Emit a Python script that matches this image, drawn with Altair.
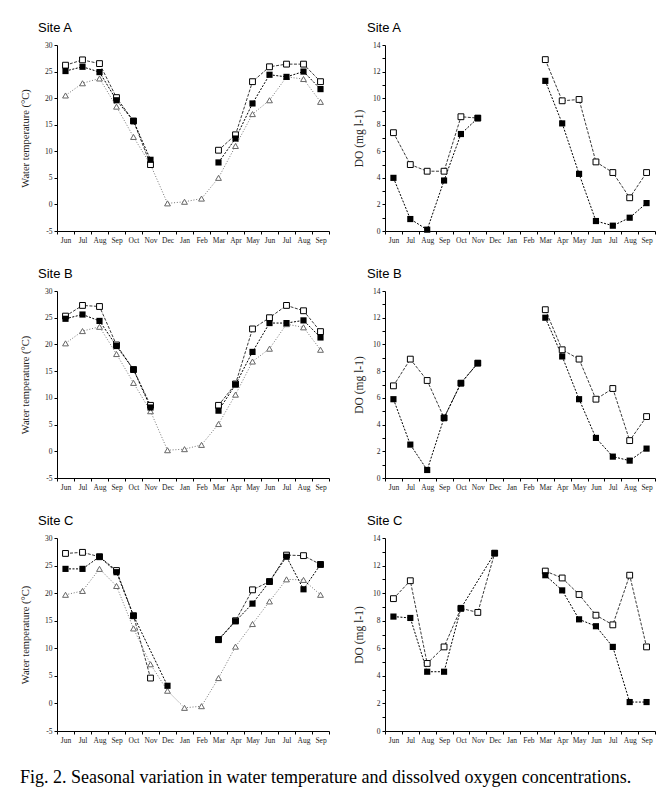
import altair as alt
import pandas as pd

# Sampling months, June of one year through September of the next
months = ["Jun", "Jul", "Aug", "Sep", "Oct", "Nov", "Dec", "Jan", "Feb",
          "Mar", "Apr", "May", "Jun", "Jul", "Aug", "Sep"]

# Water temperature (°C) — three series per site
a_temp_open = [26.2, 27.2, 26.5, 20.1, 15.7, 7.5, None, None, None, 10.2, 13.1, 23.1, 25.9, 26.4, 26.4, 23.1]
a_temp_filled = [25.1, 25.9, 24.9, 19.6, 15.7, 8.4, None, None, None, 7.9, 12.4, 19.0, 24.4, 24.0, 25.0, 21.7]
a_temp_tri = [20.5, 22.8, 23.7, 18.4, 12.7, 7.5, 0.2, 0.5, 1.1, 5.0, 11.0, 17.0, 19.6, 24.0, 23.6, 19.3]

b_temp_open = [25.3, 27.3, 27.1, 19.9, 15.3, 8.6, None, None, None, 8.6, 12.6, 22.9, 25.0, 27.3, 26.3, 22.4]
b_temp_filled = [24.8, 25.6, 24.4, 19.7, 15.3, 8.2, None, None, None, 7.6, 12.5, 18.6, 24.0, 24.0, 24.5, 21.3]
b_temp_tri = [20.2, 22.5, 23.3, 18.2, 12.8, 7.5, 0.2, 0.4, 1.2, 5.1, 10.6, 16.8, 19.2, 23.8, 23.2, 19.0]

c_temp_open = [27.2, 27.4, 26.6, 24.1, 15.9, 4.6, None, None, None, 11.6, 15.0, 20.6, 22.1, 26.9, 26.8, 25.2]
c_temp_filled = [24.4, 24.4, 26.6, 23.8, 15.9, None, 3.2, None, None, 11.5, 14.9, 18.1, 22.1, 26.6, 20.7, 25.2]
c_temp_tri = [19.7, 20.4, 24.4, 21.3, 13.6, 7.1, 2.3, -0.8, -0.5, 4.6, 10.3, 14.4, 18.5, 22.5, 22.4, 19.7]

# Dissolved oxygen (mg l-1) — two series per site
a_do_open = [7.4, 5.0, 4.5, 4.5, 8.6, 8.5, None, None, None, 12.9, 9.8, 9.9, 5.2, 4.4, 2.5, 4.4]
a_do_filled = [4.0, 0.9, 0.1, 3.8, 7.3, 8.5, None, None, None, 11.3, 8.1, 4.3, 0.75, 0.4, 1.0, 2.1]

b_do_open = [6.9, 8.9, 7.3, 4.5, 7.1, 8.6, None, None, None, 12.6, 9.6, 8.9, 5.9, 6.7, 2.8, 4.6]
b_do_filled = [5.9, 2.5, 0.6, 4.5, 7.1, 8.6, None, None, None, 12.0, 9.1, 5.9, 3.0, 1.6, 1.3, 2.2]

c_do_open = [9.6, 10.9, 4.9, 6.1, 8.9, 8.6, 12.9, None, None, 11.6, 11.1, 9.9, 8.4, 7.7, 11.3, 6.1]
c_do_filled = [8.3, 8.2, 4.3, 4.3, 8.9, None, 12.9, None, None, 11.3, 10.2, 8.1, 7.6, 6.1, 2.1, 2.1]

SERIF = "Liberation Serif"
SANS = "Liberation Sans"
month_expr = "[" + ",".join("'%s'" % m for m in months) + "][datum.value]"


def frame(values, split_years=True):
    rows = []
    for i, v in enumerate(values):
        if v is None:
            continue
        seg = (0 if i <= 8 else 1) if split_years else 0
        rows.append({"idx": i, "value": v, "seg": seg})
    return pd.DataFrame(rows)


def series_layers(values, kind, x, y):
    df = frame(values, split_years=(kind != "tri"))
    base = alt.Chart(df).encode(x=x, y=y)
    if kind == "filled":
        line = base.mark_line(color="black", strokeWidth=1, strokeDash=[2, 1.5]).encode(detail="seg:N")
        pts = base.mark_point(shape="square", filled=True, color="black", size=38, opacity=1)
    elif kind == "open":
        line = base.mark_line(color="#222", strokeWidth=0.9, strokeDash=[3, 1.5]).encode(detail="seg:N")
        pts = base.mark_point(shape="square", filled=True, fill="white", stroke="black",
                              strokeWidth=1, size=34, opacity=1)
    else:
        line = base.mark_line(color="#777", strokeWidth=1, strokeDash=[1, 1.8]).encode(detail="seg:N")
        pts = base.mark_point(shape="triangle-up", filled=True, fill="white", stroke="#666",
                              strokeWidth=1, size=34, opacity=1)
    return line, pts


def panel(site, series, ydomain, yvalues, label_step, ytitle, title_size, width, height,
          title_pad, title_dx):
    x = alt.X("idx:O",
              scale=alt.Scale(domain=list(range(16)), paddingInner=0, paddingOuter=0),
              axis=alt.Axis(title=None, labelExpr=month_expr, tickBand="extent",
                            labelAngle=0, labelPadding=2))
    y = alt.Y("value:Q",
              scale=alt.Scale(domain=ydomain, nice=False, zero=False),
              axis=alt.Axis(title=ytitle, values=yvalues, titleFontSize=title_size,
                            labelExpr="datum.value %% %d == 0 ? datum.value : ''" % label_step,
                            minExtent=16, maxExtent=16, titlePadding=title_pad))
    lines, points = [], []
    for vals, kind in series:
        l, p = series_layers(vals, kind, x, y)
        lines.append(l)
        points.append(p)
    return alt.layer(*lines, *points).properties(
        width=width, height=height,
        title=alt.TitleParams(site, anchor="start", frame="group", dx=title_dx,
                              font=SANS, fontSize=13, fontWeight="normal", color="black",
                              offset=6),
    )


temp_vals = list(range(-5, 31, 5))
do_vals = list(range(0, 15))
TEMP_T = "Water temperature (°C)"
DO_T = "DO (mg l-1)"

rows = []
for site, t_series, d_series, h in [
    ("Site A", [(a_temp_tri, "tri"), (a_temp_open, "open"), (a_temp_filled, "filled")],
     [(a_do_open, "open"), (a_do_filled, "filled")], 186),
    ("Site B", [(b_temp_tri, "tri"), (b_temp_open, "open"), (b_temp_filled, "filled")],
     [(b_do_open, "open"), (b_do_filled, "filled")], 187),
    ("Site C", [(c_temp_tri, "tri"), (c_temp_open, "open"), (c_temp_filled, "filled")],
     [(c_do_open, "open"), (c_do_filled, "filled")], 193),
]:
    left = panel(site, t_series, [-5, 30], temp_vals, 5, TEMP_T, 10.5, 272, h, 11, -19)
    right = panel(site, d_series, [0, 14], do_vals, 2, DO_T, 11.5, 270, h, 5, -18)
    rows.append(alt.hconcat(left, right, spacing=23))

chart = alt.vconcat(*rows, spacing=24).properties(
    padding={"left": 20, "top": 22, "right": 0, "bottom": 0},
    background="white",
    title=alt.TitleParams(
        "Fig. 2. Seasonal variation in water temperature and dissolved oxygen concentrations.",
        orient="bottom", anchor="start", frame="bounds", font=SERIF, fontSize=18,
        fontWeight="normal", color="black", offset=25),
).configure_view(stroke=None).configure_axis(
    grid=False, domainColor="black", domainWidth=1, tickColor="black", tickSize=3,
    labelFont=SERIF, labelFontSize=7.5, labelColor="#222",
    titleFont=SERIF, titleFontWeight="normal", titleColor="#222",
)

chart.save("out.html", embed_options={"renderer": "svg", "actions": False})
